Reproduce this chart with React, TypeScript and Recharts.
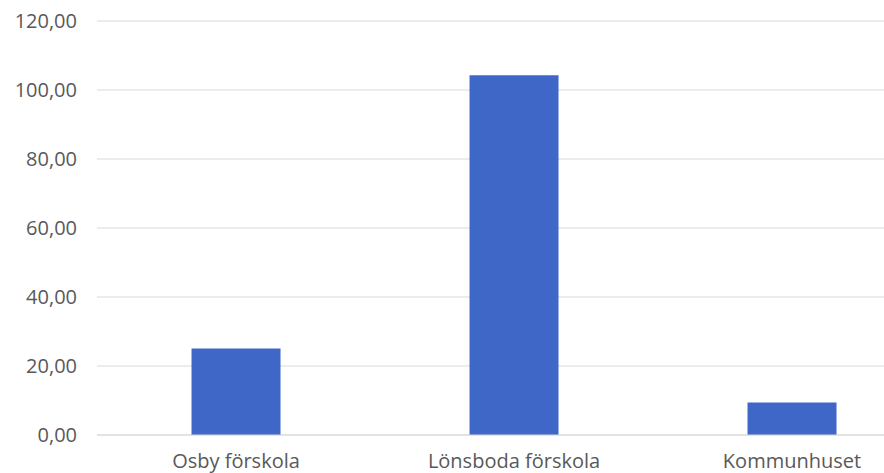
import React from "react";
import { BarChart, Bar, XAxis, YAxis, CartesianGrid } from "recharts";

const categories = ["Osby förskola", "Lönsboda förskola", "Kommunhuset"];
const values = [25.1, 104.3, 9.4];
const yTicks = [0, 20, 40, 60, 80, 100, 120];

const data = categories.map((name, i) => ({ name, value: values[i] }));

const fmt = (v: number) => v.toFixed(2).replace(".", ",");

export default function App() {
  return (
    <div
      style={{
        position: "absolute",
        left: 0,
        top: 0,
        width: 884,
        height: 473,
        overflow: "hidden",
        background: "#ffffff",
      }}
    >
      <BarChart
        width={931}
        height={473}
        data={data}
        margin={{ top: 21, right: 0, bottom: 0, left: 0 }}
        barCategoryGap="34%"
      >
        <CartesianGrid vertical={false} stroke="#d9d9d9" strokeWidth={1} />
        <XAxis
          dataKey="name"
          height={38}
          axisLine={{ stroke: "#d9d9d9" }}
          tickLine={false}
          tickSize={0}
          tickMargin={19}
          tick={{ fill: "#595959", fontSize: 20, fontFamily: "Open Sans" }}
          interval={0}
        />
        <YAxis
          width={97}
          domain={[0, 120]}
          ticks={yTicks}
          tickFormatter={fmt}
          axisLine={false}
          tickLine={false}
          tickSize={0}
          tickMargin={20}
          tick={{ fill: "#595959", fontSize: 20, fontFamily: "Open Sans" }}
        />
        <Bar dataKey="value" fill="#3F67C7" isAnimationActive={false} />
      </BarChart>
    </div>
  );
}
